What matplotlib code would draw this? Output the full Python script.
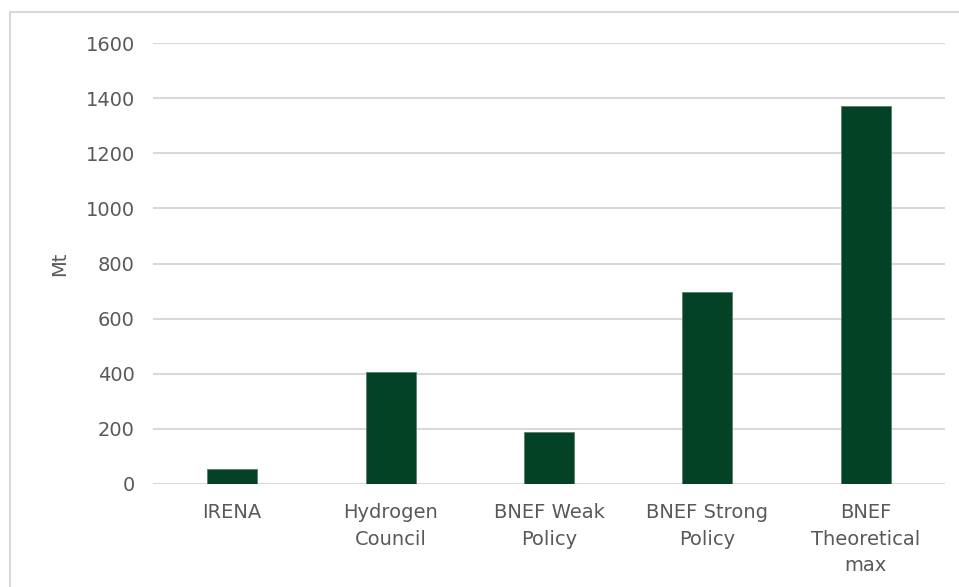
# 수소 수요 전망 막대 그래프
import matplotlib.pyplot as plt
from matplotlib.patches import Rectangle

# 데이터
categories = ['IRENA', 'Hydrogen\nCouncil', 'BNEF Weak\nPolicy', 'BNEF Strong\nPolicy', 'BNEF\nTheoretical\nmax']
values = [55, 405, 190, 698, 1370]
yticks = [0, 200, 400, 600, 800, 1000, 1200, 1400, 1600]

plt.rcParams['font.family'] = ['DejaVu Sans']
text_color = '#595959'
grid_color = '#d9d9d9'

fig = plt.figure(figsize=(9.59, 5.87), dpi=100)
ax = fig.add_axes([0.1595, 0.1755, 0.8259, 0.7512])

x = range(len(categories))
ax.bar(x, values, width=0.315, color='#034225', edgecolor='#5a7f6a', linewidth=0.6, zorder=3)

ax.set_ylim(0, 1600)
ax.set_xlim(-0.5, len(categories) - 0.5)
ax.set_yticks(yticks)
ax.set_yticklabels([str(t) for t in yticks], fontsize=14, color=text_color)
ax.set_xticks(list(x))
ax.set_xticklabels(categories, fontsize=14, color=text_color, linespacing=1.5)
ax.tick_params(axis='both', length=0)
ax.tick_params(axis='y', pad=13)
ax.tick_params(axis='x', pad=14)

ax.yaxis.grid(True, color=grid_color, linewidth=1.5, zorder=0)
for s in ax.spines.values():
    s.set_visible(False)

ax.set_ylabel('Mt', fontsize=14, color=text_color, labelpad=12)

# 바깥 테두리
fig.patches.append(Rectangle((10 / 959, -0.1), 1.2, 1 - 12 / 587 + 0.1,
                             transform=fig.transFigure, fill=False,
                             edgecolor=grid_color, linewidth=1.5))

plt.savefig('out.png', dpi=100)
